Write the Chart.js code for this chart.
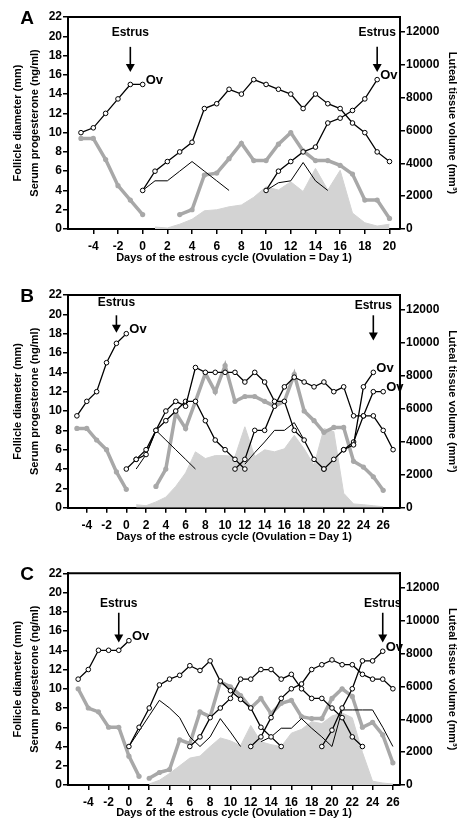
<!DOCTYPE html>
<html>
<head>
<meta charset="utf-8">
<script src="https://cdn.jsdelivr.net/npm/chart.js@4.4.1/dist/chart.umd.min.js"></script>
<style>
  body { margin: 0; background: #fff; }
  canvas { position: absolute; left: 0; }
</style>
</head>
<body>
<canvas id="chartA" width="460" height="272" style="top:0px"></canvas>
<canvas id="chartB" width="460" height="282" style="top:268px"></canvas>
<canvas id="chartC" width="460" height="280" style="top:545px"></canvas>
<script>
// ---------- Panel A ----------
const aFol1Days = [-5, -4, -3, -2, -1, 0];
const aFol1 = [10, 10.5, 12, 13.5, 15, 15];
const aFol2Days = [0, 1, 2, 3, 4, 5, 6, 7, 8, 9, 10, 11, 12, 13, 14, 15, 16, 17, 18, 19, 20];
const aFol2 = [4, 6, 7, 8, 9, 12.5, 13, 14.5, 14, 15.5, 15, 14.5, 14, 12.5, 14, 13, 12.5, 11, 10, 8, 7];
const aSub1Days = [0, 1, 2, 3, 4, 5, 6, 7];
const aSub1 = [4, 5, 5, 6, 7, 6, 5, 4];
const aFol3Days = [10, 11, 12, 13, 14, 15, 16, 17, 18, 19];
const aFol3 = [4, 6, 7, 8, 8.5, 11, 11.5, 12.3, 13.5, 15.5];
const aSub2Days = [10, 11, 12, 13, 14, 15];
const aSub2 = [4, 4.8, 5, 6.9, 5, 4];
const aP4Days1 = [-5, -4, -3, -2, -1, 0];
const aP4_1 = [9.4, 9.4, 7.2, 4.5, 3, 1.5];
const aP4Days2 = [3, 4, 5, 6, 7, 8, 9, 10, 11, 12, 13, 14, 15, 16, 17, 18, 19, 20];
const aP4_2 = [1.5, 2, 5.6, 5.8, 7.3, 8.9, 7.1, 7.1, 8.8, 10, 8.1, 7.1, 7.1, 6.6, 5.7, 3, 3, 1.1];
const aVolDays = [1, 2, 3, 4, 5, 6, 7, 8, 9, 10, 11, 12, 13, 14, 15, 16, 17, 18, 19, 20];
const aVol = [120, 60, 290, 590, 1110, 1170, 1350, 1460, 1930, 2570, 2370, 2870, 2280, 3690, 2370, 3570, 970, 380, 180, 290];
const aEstrusDays = [-1, 19];
const aXTicks = [-4, -2, 0, 2, 4, 6, 8, 10, 12, 14, 16, 18, 20];

// ---------- Panel B ----------
const bFol1Days = [-5, -4, -3, -2, -1, 0];
const bFol1 = [9.5, 11, 12, 15, 17, 18];
const bFol2Days = [0, 1, 2, 3, 4, 5, 6, 7, 8, 9, 10, 11, 12, 13, 14, 15, 16, 17, 18, 19, 20];
const bFol2 = [4, 5, 6, 8, 10, 11, 10.5, 14.5, 14, 14, 14, 14, 13, 14, 13, 11, 11, 8, 7, 5, 4];
const bFol3Days = [1, 2, 3, 4, 5, 6, 7, 8, 9, 10, 11, 12];
const bFol3 = [5, 5.5, 8, 9, 10, 11, 11, 9, 7, 6, 5, 4];
const bSub1Days = [1, 2, 3, 4, 5, 6, 7];
const bSub1 = [4, 5.5, 8, 7, 6, 5, 4];
const bFol4Days = [11, 12, 13, 14, 15, 16, 17, 18, 19, 20, 21, 22, 23, 24, 25, 26, 27];
const bFol4 = [4, 5, 8, 8, 10.5, 12.5, 13.5, 13, 12.5, 13, 12, 12.5, 9.5, 9.5, 9.5, 8, 6];
const bSub2Days = [12, 13, 14, 15, 16, 17, 18];
const bSub2 = [4.5, 5.7, 6.8, 8, 8, 8.8, 7];
const bFol5Days = [20, 21, 22, 23, 24, 25];
const bFol5 = [4, 5, 6, 6.5, 12.5, 14];
const bFol6Days = [22, 23, 24, 25, 26];
const bFol6 = [6, 6.8, 9.5, 12, 12];
const bP4Days1 = [-5, -4, -3, -2, -1, 0];
const bP4_1 = [8.2, 8.2, 7, 6, 3.7, 1.9];
const bP4Days2 = [3, 4, 5, 6, 7, 8, 9, 10, 11, 12, 13, 14, 15, 16, 17, 18, 19, 20, 21, 22, 23, 24, 25, 26];
const bP4_2 = [2.2, 4, 9.8, 8.2, 11, 13.9, 12, 14.7, 11, 11.5, 11.5, 11, 10.5, 11, 13.8, 10, 9, 7.8, 8.3, 8.3, 4.8, 4.2, 3.2, 1.8];
const bVolDays = [1, 2, 3, 4, 5, 6, 7, 8, 9, 10, 11, 12, 13, 14, 15, 16, 17, 18, 19, 20, 21, 22, 23, 24, 25, 26];
const bVol = [180, 120, 350, 640, 1290, 2110, 3390, 2980, 3160, 3160, 3100, 4910, 3100, 3510, 3390, 3570, 4390, 3570, 2570, 4800, 4620, 880, 230, 180, 120, 60];
const bEstrusDays = [-1, 25];
const bXTicks = [-4, -2, 0, 2, 4, 6, 8, 10, 12, 14, 16, 18, 20, 22, 24, 26];

// ---------- Panel C ----------
const cFol1Days = [-5, -4, -3, -2, -1, 0];
const cFol1 = [11, 12, 14, 14, 14, 15];
const cFol2Days = [0, 1, 2, 3, 4, 5, 6, 7, 8, 9, 10, 11, 12, 13, 14, 15];
const cFol2 = [4, 6, 8, 10.4, 11, 11.4, 12.4, 11.9, 12.9, 10.8, 9.8, 8.9, 8, 6, 5, 4];
const cSub1Days = [0, 1, 2, 3, 4, 5, 6, 7];
const cSub1 = [4, 5.6, 7.2, 8.8, 8, 7, 5, 4];
const cSub2Days = [7, 8, 9, 10, 11];
const cSub2 = [4, 5, 6.9, 5.5, 4];
const cFol3Days = [6, 7, 8, 9, 10, 11, 12, 13, 14, 15, 16, 17, 18, 19, 20, 21, 22, 23];
const cFol3 = [4, 5, 7, 8, 9, 11, 11, 12, 12, 11, 11.5, 10, 9, 9, 8, 7, 5, 4];
const cFol4Days = [12, 13, 14, 15, 16, 17, 18, 19, 20, 21, 22, 23, 24, 25, 26];
const cFol4 = [4, 5, 7, 9, 10, 10.5, 12, 12.5, 13, 12.5, 12.5, 11.5, 11, 11, 10];
const cSub3Days = [13, 14, 15, 16, 17, 18, 19, 20];
const cSub3 = [4.5, 5, 5.9, 5.9, 6.9, 5.9, 5, 4];
const cFol5Days = [19, 20, 21, 22, 23, 24, 25];
const cFol5 = [4, 5.7, 8, 10, 12.9, 12.9, 13.9];
const cSub4Days = [20, 21, 22, 23, 24, 25, 26];
const cSub4 = [4, 7.8, 7.8, 7.8, 7.8, 6, 4];
const cP4Days1 = [-5, -4, -3, -2, -1, 0, 1];
const cP4_1 = [10, 8, 7.6, 6, 6, 3, 0.9];
const cP4Days2 = [2, 3, 4, 5, 6, 7, 8, 9, 10, 11, 12, 13, 14, 15, 16, 17, 18, 19, 20, 21, 22, 23, 24, 25, 26];
const cP4_2 = [0.7, 1.3, 1.6, 4.7, 4.3, 7.6, 7.1, 10.7, 10.2, 9.3, 8, 9, 7.4, 8.5, 8.8, 7.1, 6.9, 6.9, 9, 10, 9.2, 6, 6.5, 5.2, 2.3];
const cVolDays = [2, 3, 4, 5, 6, 7, 8, 9, 10, 11, 12, 13, 14, 15, 16, 17, 18, 19, 20, 21, 22, 23, 24, 25, 26];
const cVol = [60, 290, 700, 1170, 1640, 1760, 2340, 2870, 2690, 2400, 3630, 2630, 2460, 2340, 3160, 3390, 3860, 3740, 4210, 4390, 4100, 1990, 230, 120, 60];
const cEstrusDays = [-1, 25];
const cXTicks = [-4, -2, 0, 2, 4, 6, 8, 10, 12, 14, 16, 18, 20, 22, 24, 26];

// shared axis ticks
const diameterTicks = [0, 2, 4, 6, 8, 10, 12, 14, 16, 18, 20, 22];
const volumeTicks = [0, 2000, 4000, 6000, 8000, 10000, 12000];

const FONT = '"Liberation Sans", Arial, Helvetica, sans-serif';
const GREY = '#a8a8a8';
const AREA = '#d3d3d3';

function xy(days, vals) {
	return days.map((d, i) => ({ x: d, y: vals[i] }));
}

function follicle(days, vals, ovulation) {
	return {
		data: xy(days, vals),
		borderColor: "#000",
		borderWidth: 1.3,
		pointRadius: 2.3,
		pointBackgroundColor: "#fff",
		pointBorderColor: "#000",
		pointBorderWidth: 1,
		yAxisID: "y",
		order: 1,
		ovulation: !!ovulation,
	};
}

function subordinate(days, vals) {
	return {
		data: xy(days, vals),
		borderColor: "#000",
		borderWidth: 1,
		pointRadius: 0,
		yAxisID: "y",
		order: 1,
	};
}

function progesterone(days, vals) {
	return {
		data: xy(days, vals),
		borderColor: GREY,
		borderWidth: 3.5,
		pointRadius: 2.6,
		pointBackgroundColor: GREY,
		pointBorderColor: GREY,
		pointBorderWidth: 0,
		yAxisID: "y",
		order: 2,
	};
}

function lutealVolume(days, vals) {
	return {
		data: xy(days, vals),
		borderColor: AREA,
		borderWidth: 1,
		backgroundColor: AREA,
		fill: "origin",
		pointRadius: 0,
		yAxisID: "y2",
		order: 3,
	};
}

// letter, estrus arrows and "Ov" labels, plus top frame line
const panelDecor = {
	id: "panelDecor",
	afterDraw(chart, args, opts) {
		const { ctx, chartArea, scales } = chart;
		const x = scales.x, y = scales.y;
		ctx.save();
		ctx.strokeStyle = "#000";
		ctx.fillStyle = "#000";
		ctx.lineWidth = 2;
		ctx.beginPath();
		ctx.moveTo(chartArea.left, chartArea.top);
		ctx.lineTo(chartArea.right, chartArea.top);
		ctx.stroke();

		ctx.font = "bold 19px " + FONT;
		ctx.textAlign = "center";
		ctx.textBaseline = "middle";
		ctx.fillText(opts.letter, 27, chartArea.top + 1.5);

		opts.estrus.forEach((day, i) => {
			const a = opts.arrows[i];
			const px = x.getPixelForValue(day);
			ctx.font = "bold 12px " + FONT;
			ctx.textAlign = "center";
			ctx.fillText("Estrus", px, y.getPixelForValue(a[0]));
			const top = y.getPixelForValue(a[1]);
			const tip = y.getPixelForValue(a[2]);
			ctx.lineWidth = 1.6;
			ctx.beginPath();
			ctx.moveTo(px, top);
			ctx.lineTo(px, tip - 6);
			ctx.stroke();
			ctx.beginPath();
			ctx.moveTo(px - 4.5, tip - 8);
			ctx.lineTo(px + 4.5, tip - 8);
			ctx.lineTo(px, tip);
			ctx.closePath();
			ctx.fill();
		});

		ctx.font = "bold 13px " + FONT;
		ctx.textAlign = "left";
		chart.data.datasets.forEach((ds, i) => {
			if (!ds.ovulation) return;
			const pts = chart.getDatasetMeta(i).data;
			const last = pts[pts.length - 1];
			ctx.fillText("Ov", last.x + 3, last.y - 4);
		});
		ctx.restore();
	},
};

function axisCommon() {
	return {
		grid: { display: true, drawOnChartArea: false, drawTicks: true, tickLength: 5, color: "#000", lineWidth: 1.5 },
		border: { display: true, color: "#000", width: 2 },
	};
}

function createChart(id, p) {
	const tickFont = { family: FONT, size: 12, weight: "bold" };
	const titleFont = { family: FONT, size: 11, weight: "bold", lineHeight: 1.2 };
	return new Chart(document.getElementById(id), {
		type: "line",
		data: { datasets: p.datasets },
		options: {
			responsive: false,
			animation: false,
			devicePixelRatio: 1,
			layout: { padding: { top: p.padTop, bottom: p.padBottom, left: 0, right: 0 } },
			plugins: {
				legend: { display: false },
				tooltip: { enabled: false },
				panelDecor: { letter: p.letter, estrus: p.estrus, arrows: p.arrows },
			},
			scales: {
				x: {
					type: "linear",
					min: p.xMin,
					max: p.xMax,
					afterBuildTicks: (s) => { s.ticks = p.xTicks.map((v) => ({ value: v })); },
					afterFit: (s) => { s.height = p.xHeight; },
					ticks: { font: tickFont, color: "#000", padding: 5.5, maxRotation: 0, callback: (v) => String(v) },
					title: { display: true, text: "Days of the estrous cycle (Ovulation = Day 1)", font: titleFont, color: "#000", padding: { top: 0, bottom: 5 } },
					...axisCommon(),
				},
				y: {
					position: "left",
					min: 0,
					max: 22,
					afterBuildTicks: (s) => { s.ticks = diameterTicks.map((v) => ({ value: v })); },
					afterFit: (s) => { s.width = 68; },
					ticks: { font: tickFont, color: "#000", padding: 1, callback: (v) => String(v) },
					title: {
						display: true,
						text: ["Follicle diameter (mm)", "Serum progesterone (ng/ml)"],
						font: { family: FONT, size: 11, weight: "bold", lineHeight: 1.5 },
						color: "#000",
						padding: { top: 10, bottom: 0 },
					},
					...axisCommon(),
				},
				y2: {
					position: "right",
					min: 0,
					max: 12900,
					afterBuildTicks: (s) => { s.ticks = volumeTicks.map((v) => ({ value: v })); },
					afterFit: (s) => { s.width = 60; },
					ticks: { font: tickFont, color: "#000", padding: 1, callback: (v) => String(v) },
					title: { display: true, text: "Luteal tissue volume (mm³)", font: titleFont, color: "#000", padding: { top: 1.4, bottom: 0 } },
					...axisCommon(),
				},
			},
		},
		plugins: [panelDecor],
	});
}

createChart("chartA", {
	letter: "A",
	padTop: 17, padBottom: 2, xHeight: 41,
	xMin: -6.05, xMax: 20.85, xTicks: aXTicks,
	estrus: aEstrusDays,
	arrows: [[20.4, 18.9, 16.3], [20.4, 18.9, 16.3]],
	datasets: [
		follicle(aFol1Days, aFol1, true),
		follicle(aFol2Days, aFol2),
		subordinate(aSub1Days, aSub1),
		follicle(aFol3Days, aFol3, true),
		subordinate(aSub2Days, aSub2),
		progesterone(aP4Days1, aP4_1),
		progesterone(aP4Days2, aP4_2),
		lutealVolume(aVolDays, aVol),
	],
});

createChart("chartB", {
	letter: "B",
	padTop: 27, padBottom: 1.3, xHeight: 41,
	xMin: -5.9, xMax: 27.7, xTicks: bXTicks,
	estrus: bEstrusDays,
	arrows: [[21.2, 19.9, 18.1], [20.9, 19.9, 17.3]],
	datasets: [
		follicle(bFol1Days, bFol1, true),
		follicle(bFol2Days, bFol2),
		follicle(bFol3Days, bFol3),
		subordinate(bSub1Days, bSub1),
		follicle(bFol4Days, bFol4),
		subordinate(bSub2Days, bSub2),
		follicle(bFol5Days, bFol5, true),
		follicle(bFol6Days, bFol6, true),
		progesterone(bP4Days1, bP4_1),
		progesterone(bP4Days2, bP4_2),
		lutealVolume(bVolDays, bVol),
	],
});

createChart("chartC", {
	letter: "C",
	padTop: 28.3, padBottom: 0, xHeight: 40,
	xMin: -6, xMax: 26.7, xTicks: cXTicks,
	estrus: cEstrusDays,
	arrows: [[18.8, 17.9, 14.8], [18.8, 17.9, 14.8]],
	datasets: [
		follicle(cFol1Days, cFol1, true),
		follicle(cFol2Days, cFol2),
		subordinate(cSub1Days, cSub1),
		subordinate(cSub2Days, cSub2),
		follicle(cFol3Days, cFol3),
		follicle(cFol4Days, cFol4),
		subordinate(cSub3Days, cSub3),
		follicle(cFol5Days, cFol5, true),
		subordinate(cSub4Days, cSub4),
		progesterone(cP4Days1, cP4_1),
		progesterone(cP4Days2, cP4_2),
		lutealVolume(cVolDays, cVol),
	],
});
</script>
</body>
</html>
